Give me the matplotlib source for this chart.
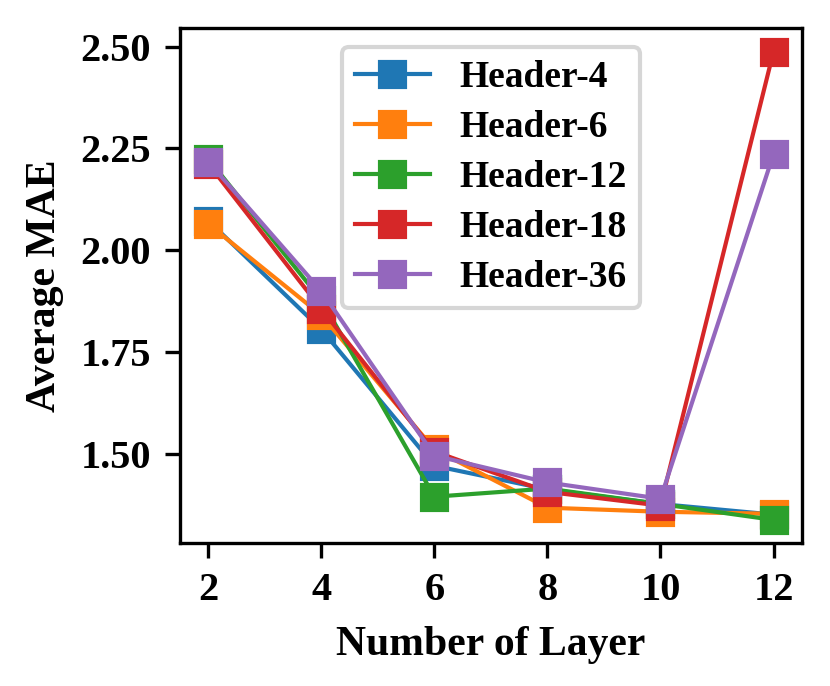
import matplotlib
matplotlib.use('Agg')
import matplotlib.pyplot as plt

plt.rcParams['font.family'] = ['Liberation Serif', 'DejaVu Serif']
plt.rcParams['font.weight'] = 'bold'
plt.rcParams['axes.labelweight'] = 'bold'

layers = [2, 4, 6, 8, 10, 12]
header_4 = [2.072, 1.805, 1.470, 1.412, 1.376, 1.350]
header_6 = [2.064, 1.840, 1.510, 1.367, 1.357, 1.352]
header_12 = [2.224, 1.877, 1.394, 1.414, 1.376, 1.337]
header_18 = [2.212, 1.855, 1.505, 1.406, 1.372, 2.488]
header_36 = [2.217, 1.899, 1.495, 1.429, 1.389, 2.236]

series = [
    ('Header-4', header_4),
    ('Header-6', header_6),
    ('Header-12', header_12),
    ('Header-18', header_18),
    ('Header-36', header_36),
]

fig = plt.figure(figsize=(830 / 300, 686 / 300), dpi=300)
ax = fig.add_axes([0.217, 0.208, 0.749, 0.751])

for name, vals in series:
    ax.plot(layers, vals, marker='s', markersize=6, linewidth=1, label=name)

ax.set_xticks(layers)
ax.set_yticks([1.50, 1.75, 2.00, 2.25, 2.50])
ax.set_xlabel('Number of Layer', fontsize=10)
ax.set_ylabel('Average MAE', fontsize=10)
ax.tick_params(labelsize=9.7)
for lab in ax.get_xticklabels() + ax.get_yticklabels():
    lab.set_fontweight('bold')

ax.legend(loc='upper center', prop={'size': 9, 'weight': 'bold'},
          labelspacing=0.4, borderpad=0.35)

fig.savefig('out.png', dpi=300)
